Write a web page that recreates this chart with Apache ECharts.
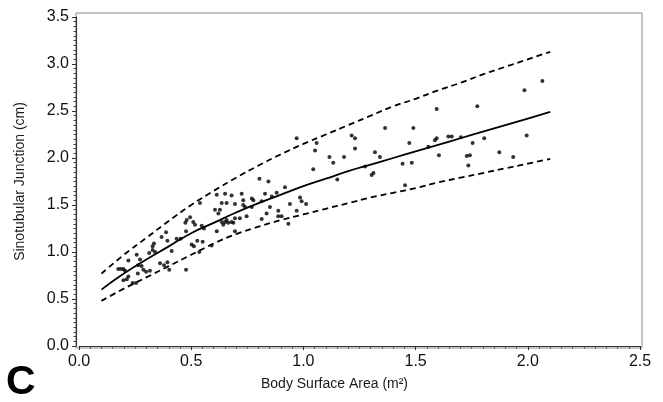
<!DOCTYPE html>
<html><head><meta charset="utf-8">
<script src="https://cdn.jsdelivr.net/npm/echarts@6/dist/echarts.min.js"></script>
<style>html,body{margin:0;padding:0;background:#fff}#c{width:663px;height:402px}</style>
</head><body><div id="c"></div>
<script>
// Curve sample positions (BSA, m²)
const curveBSA = [0.1,0.2,0.3,0.4,0.5,0.6,0.7,0.8,0.9,1.0,1.1,1.2,1.3,1.4,1.5,1.6,1.7,1.8,1.9,2.0,2.1];
// Mean regression line (cm)
const meanLine = [0.60,0.77,0.92,1.06,1.20,1.31,1.42,1.52,1.61,1.70,1.78,1.86,1.93,2.00,2.07,2.14,2.21,2.28,2.35,2.42,2.49];
// Upper limit (dashed)
const upperLine = [0.77,0.97,1.15,1.33,1.50,1.65,1.79,1.92,2.04,2.15,2.25,2.35,2.45,2.55,2.63,2.72,2.80,2.89,2.97,3.05,3.13];
// Lower limit (dashed)
const lowerLine = [0.48,0.61,0.73,0.85,0.97,1.09,1.19,1.27,1.34,1.40,1.46,1.52,1.58,1.63,1.68,1.74,1.79,1.84,1.89,1.94,1.99];
// Observed points: BSA and sinotubular junction
const pointBSA = [0.175,0.187,0.198,0.205,0.22,0.257,0.272,0.264,0.198,0.213,0.239,0.254,0.22,0.262,0.287,0.299,0.316,0.279,0.313,0.328,0.339,0.328,0.334,0.361,0.379,0.394,0.402,0.413,0.368,0.388,0.394,0.435,0.453,0.477,0.477,0.474,0.480,0.495,0.509,0.517,0.502,0.512,0.527,0.536,0.551,0.547,0.557,0.539,0.591,0.636,0.658,0.665,
0.970,1.059,1.052,1.215,1.230,1.230,1.364,1.490,1.594,1.472,1.319,1.341,1.116,1.133,1.181,1.044,0.804,0.844,1.275,1.304,1.312,1.151,1.442,1.483,1.604,1.594,1.586,1.557,1.453,0.918,0.881,0.859,0.829,0.770,0.725,0.732,0.680,0.651,0.614,0.606,0.628,0.658,0.695,0.732,0.740,0.777,0.814,0.851,0.888,0.903,0.940,0.985,0.992,1.012,0.970,0.747,0.717,0.695,0.680,0.688,0.651,0.643,0.636,0.621,0.614,0.695,0.814,0.933,0.888,0.836,0.770,
1.775,1.985,2.065,1.646,1.661,1.702,1.754,1.806,1.995,1.728,1.742,1.873,1.935,1.735];
const pointSTJ = [0.82,0.82,0.82,0.80,0.91,0.97,0.92,0.86,0.70,0.71,0.67,0.67,0.74,0.77,0.81,0.79,0.80,0.85,0.99,1.02,1.00,1.06,1.09,0.88,0.86,0.89,0.81,1.01,1.16,1.21,1.12,1.14,1.14,1.22,0.81,1.31,1.34,1.37,1.32,1.29,1.08,1.06,1.12,1.00,1.11,1.28,1.25,1.52,1.07,1.52,1.34,1.31,
2.21,2.16,2.08,2.24,2.21,2.10,2.32,2.32,2.52,2.16,2.06,2.01,2.01,1.95,2.01,1.88,1.78,1.75,1.91,1.82,1.84,1.77,1.94,1.95,2.03,2.21,2.19,2.12,1.71,1.69,1.63,1.59,1.62,1.57,1.62,1.55,1.60,1.62,1.61,1.45,1.45,1.52,1.51,1.50,1.48,1.55,1.54,1.48,1.44,1.38,1.51,1.58,1.54,1.51,1.44,1.38,1.36,1.36,1.32,1.31,1.32,1.29,1.32,1.41,1.22,1.22,1.35,1.30,1.38,1.41,1.48,
2.55,2.72,2.82,2.23,2.23,2.22,2.16,2.21,2.24,2.02,2.03,2.06,2.01,1.92];
const xTicks = [0.0,0.5,1.0,1.5,2.0,2.5];
const yTicks = [0.0,0.5,1.0,1.5,2.0,2.5,3.0,3.5];

const zip = (a,b)=>a.map((v,i)=>[v,b[i]]);
const font = 'Liberation Sans, Arial, sans-serif';
const chart = echarts.init(document.getElementById('c'), null, {renderer:'canvas'});
const dashed = {color:'#000', width:1.8, type:[6,4]};
chart.setOption({
  animation:false,
  backgroundColor:'#fff',
  grid:[
    {left:79, right:23, top:17, bottom:56, show:false},
    {left:76, right:21, top:13, bottom:54, show:true, borderColor:'#8a8a8a', borderWidth:1, z:0}
  ],
  xAxis:[{
    gridIndex:0, type:'value', min:xTicks[0], max:xTicks[xTicks.length-1], interval:0.5,
    name:'Body Surface Area (m²)', nameLocation:'middle', nameGap:31,
    nameTextStyle:{fontFamily:font, fontSize:14, color:'#1a1a1a', padding:[0,50,0,0]},
    axisLine:{show:true, onZero:false, lineStyle:{color:'#333', width:1.2}},
    axisTick:{show:true, inside:false, length:4, lineStyle:{color:'#333'}},
    minorTick:{show:true, splitNumber:10, length:2.5, lineStyle:{color:'#444'}},
    axisLabel:{fontFamily:font, fontSize:16, color:'#111', margin:8, formatter:v=>v.toFixed(1)},
    splitLine:{show:false}
  },{gridIndex:1, type:'value', min:0, max:1, show:false}],
  yAxis:[{
    gridIndex:0, type:'value', min:yTicks[0], max:yTicks[yTicks.length-1], interval:0.5, offset:3,
    name:'Sinotubular Junction (cm)', nameLocation:'middle', nameGap:49,
    nameTextStyle:{fontFamily:font, fontSize:14, color:'#1a1a1a'},
    axisLine:{show:true, onZero:false, lineStyle:{color:'#333', width:1.2}},
    axisTick:{show:true, inside:false, length:4, lineStyle:{color:'#333'}},
    minorTick:{show:true, splitNumber:10, length:2.5, lineStyle:{color:'#444'}},
    axisLabel:{fontFamily:font, fontSize:16, color:'#111', margin:7, formatter:v=>v.toFixed(1)},
    splitLine:{show:false}
  },{gridIndex:1, type:'value', min:0, max:1, show:false}],
  graphic:[{type:'text', left:6, top:362, style:{text:'C', font:'bold 41px '+font, fill:'#000'}}],
  series:[
    {type:'scatter', xAxisIndex:0, yAxisIndex:0, data:zip(pointBSA,pointSTJ), symbol:'circle', symbolSize:4, itemStyle:{color:'#000'}, z:3},
    {type:'line', xAxisIndex:0, yAxisIndex:0, data:zip(curveBSA,meanLine), smooth:true, showSymbol:false, lineStyle:{color:'#000', width:1.8}, z:4},
    {type:'line', xAxisIndex:0, yAxisIndex:0, data:zip(curveBSA,upperLine), smooth:true, showSymbol:false, lineStyle:dashed, z:4},
    {type:'line', xAxisIndex:0, yAxisIndex:0, data:zip(curveBSA,lowerLine), smooth:true, showSymbol:false, lineStyle:dashed, z:4}
  ]
});
</script></body></html>
